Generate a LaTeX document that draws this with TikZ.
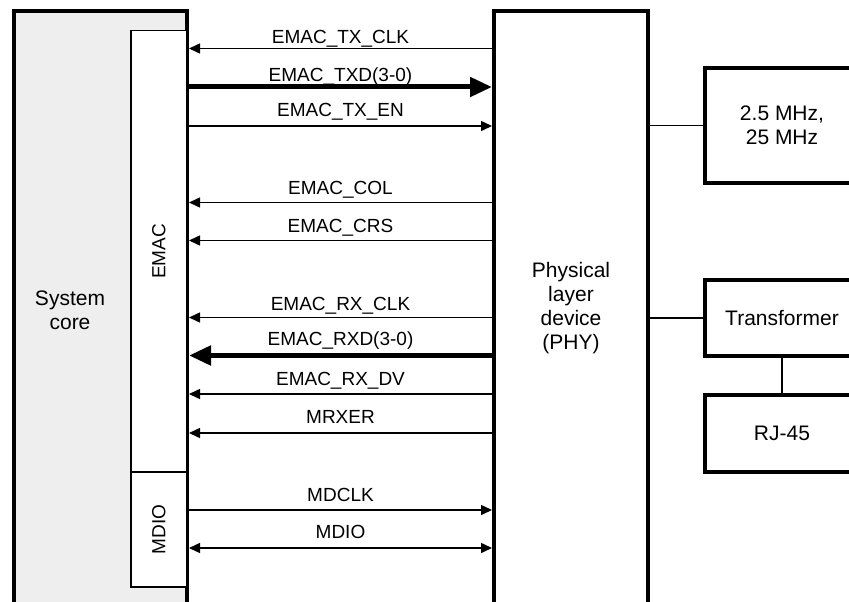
\documentclass[tikz,border=0pt]{standalone}
\usepackage{fontspec}
\setmainfont{Liberation Sans}
\usetikzlibrary{arrows.meta}
\definecolor{corefill}{HTML}{EEEEEE}
\begin{document}
\begin{tikzpicture}[x=1pt,y=-1pt,
  bigbox/.style={draw, line width=4pt, inner sep=0pt, anchor=north west},
  thinbox/.style={draw, line width=1.5pt, fill=white, inner sep=0pt, anchor=north west},
  sig/.style={line width=1.5pt, >={Triangle[length=11pt,width=10pt]}},
  bus/.style={line width=5pt, >={Triangle[length=22pt,width=19pt]}},
  lab/.style={font=\fontsize{19}{22}\selectfont, anchor=base, inner sep=0pt},
  vlab/.style={font=\fontsize{19}{22}\selectfont, rotate=90, inner sep=0pt},
  boxtext/.style={font=\fontsize{21}{24}\selectfont, align=center, inner sep=0pt},
  conn/.style={line width=1.5pt}]
\useasboundingbox (0,0) rectangle (849,602);
\clip (0,0) rectangle (849,602);
% system core
\node[bigbox, fill=corefill, minimum width=173pt, minimum height=640pt] (core) at (12,9) {};
\node[thinbox, minimum width=56pt, minimum height=441pt] (emac) at (130,30) {};
\node[thinbox, minimum width=56pt, minimum height=115pt] (mdio) at (130,471) {};
\node[vlab] (emactxt) at (emac.center) {EMAC};
\node[vlab] (mdiotxt) at (mdio.center) {MDIO};
\node[boxtext] (coretxt) at (70,310) {System\\core};
% PHY
\node[bigbox, fill=white, minimum width=154pt, minimum height=640pt] (phy) at (492,9) {};
\node[boxtext] (phytxt) at (571,308) {Physical\\layer\\device\\(PHY)};
% right boxes
\node[bigbox, minimum width=154pt, minimum height=115pt] (clk) at (703,66) {};
\node[boxtext] (clktxt) at (clk.center) {2.5 MHz,\\25 MHz};
\node[bigbox, minimum width=154pt, minimum height=76pt] (xfm) at (703,278) {};
\node[boxtext] (xfmtxt) at (xfm.center) {Transformer};
\node[bigbox, minimum width=154pt, minimum height=77pt] (rj) at (703,393) {};
\node[boxtext] (rjtxt) at (rj.center) {RJ-45};
\draw[conn] (clk.west -| phy.east) -- (clk.west);
\draw[conn] (xfm.west -| phy.east) -- (xfm.west);
\draw[conn] (xfm.south) -- (rj.north);
% signal rows
\coordinate (r1) at (0,48.5);
\coordinate (r2) at (0,87);
\coordinate (r3) at (0,126);
\coordinate (r4) at (0,202.5);
\coordinate (r5) at (0,240.5);
\coordinate (r6) at (0,317.5);
\coordinate (r7) at (0,355.5);
\coordinate (r8) at (0,394);
\coordinate (r9) at (0,433);
\coordinate (r10) at (0,510);
\coordinate (r11) at (0,548);
\draw[sig, <-] (core.east |- r1) -- node[lab, yshift=5pt] {EMAC\_TX\_CLK} (phy.west |- r1);
\draw[bus, ->] (core.east |- r2) -- node[lab, yshift=5.5pt] {EMAC\_TXD(3-0)} (phy.west |- r2);
\draw[sig, ->] (core.east |- r3) -- node[lab, yshift=9.5pt] {EMAC\_TX\_EN} (phy.west |- r3);
\draw[sig, <-] (core.east |- r4) -- node[lab, yshift=7.7pt] {EMAC\_COL} (phy.west |- r4);
\draw[sig, <-] (core.east |- r5) -- node[lab, yshift=7.7pt] {EMAC\_CRS} (phy.west |- r5);
\draw[sig, <-] (core.east |- r6) -- node[lab, yshift=7pt] {EMAC\_RX\_CLK} (phy.west |- r6);
\draw[bus, <-] (core.east |- r7) -- node[lab, yshift=10.5pt] {EMAC\_RXD(3-0)} (phy.west |- r7);
\draw[sig, <-] (core.east |- r8) -- node[lab, yshift=9pt] {EMAC\_RX\_DV} (phy.west |- r8);
\draw[sig, <-] (core.east |- r9) -- node[lab, yshift=9.3pt] {MRXER} (phy.west |- r9);
\draw[sig, ->] (core.east |- r10) -- node[lab, yshift=8.3pt] {MDCLK} (phy.west |- r10);
\draw[sig, <->] (core.east |- r11) -- node[lab, yshift=10pt] {MDIO} (phy.west |- r11);
\end{tikzpicture}
\end{document}
